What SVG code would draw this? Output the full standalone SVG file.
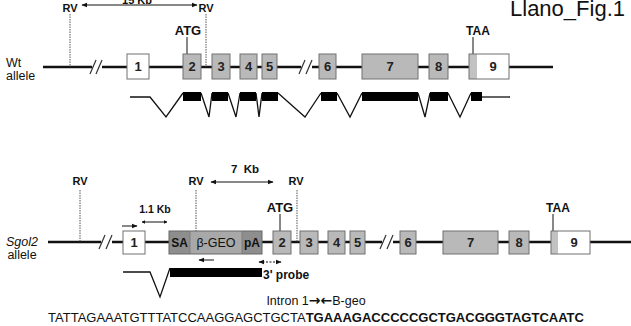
<svg xmlns="http://www.w3.org/2000/svg" width="631" height="326" viewBox="0 0 631 326">
<defs>
<style>
.t{font-family:"Liberation Sans",Arial,sans-serif;fill:#111}
.b{font-weight:bold}
.ex{fill:#b9b9b9;stroke:#707070;stroke-width:1}
.wx{fill:#fff;stroke:#707070;stroke-width:1}
.num{font-family:"Liberation Sans",Arial,sans-serif;font-weight:bold;font-size:13px;fill:#222;text-anchor:middle}
.main{stroke:#111;stroke-width:2.4;fill:none}
.tr{stroke:#111;stroke-width:1.3;fill:none}
.dot{stroke:#555;stroke-width:1;stroke-dasharray:1.5 1;fill:none}
.thin{stroke:#111;stroke-width:1;fill:none}
.brk{stroke:#333;stroke-width:1.2;fill:none}
</style>
<marker id="ah" viewBox="0 0 10 10" refX="9" refY="5" markerWidth="6" markerHeight="6" orient="auto-start-reverse"><path d="M0,1 L10,5 L0,9 z" fill="#111"/></marker>
<marker id="ahb" viewBox="0 0 10 10" refX="9" refY="5" markerWidth="3.6" markerHeight="3.6" orient="auto-start-reverse"><path d="M0,0 L10,5 L0,10 z" fill="#111"/></marker>
</defs>
<rect width="631" height="326" fill="#fff"/>

<text class="t" x="625" y="16" font-size="22" text-anchor="end">Llano_Fig.1</text>

<!-- Wt allele -->
<g id="wt-label"><text class="t" x="6" y="67" font-size="12.5">Wt</text><text class="t" x="6" y="80" font-size="12.5">allele</text></g>
<g id="wt-connectors">
<line class="main" x1="43" y1="67" x2="553" y2="67"/>
<line class="dot" x1="70" y1="14" x2="70" y2="67"/>
<line class="dot" x1="206" y1="14" x2="206" y2="67"/>
<line class="thin" x1="82" y1="5" x2="197" y2="5" marker-start="url(#ah)" marker-end="url(#ah)"/>
<line class="thin" x1="187" y1="37" x2="187" y2="54" stroke-width="1.6"/>
<line class="thin" x1="473" y1="37" x2="473" y2="54" stroke-width="1.6"/>
<rect x="92" y="60" width="10" height="14" fill="#fff"/>
<line class="brk" x1="90" y1="74" x2="96" y2="60"/><line class="brk" x1="96" y1="74" x2="102" y2="60"/>
<rect x="301" y="60" width="11" height="14" fill="#fff"/>
<line class="brk" x1="299" y1="74" x2="305" y2="60"/><line class="brk" x1="306" y1="74" x2="312" y2="60"/>
</g>
<text class="t b" x="70" y="12" font-size="11" text-anchor="middle">RV</text>
<text class="t b" x="206" y="12" font-size="11" text-anchor="middle">RV</text>
<text class="t b" x="137" y="3.5" font-size="11" text-anchor="middle">15 Kb</text>
<text class="t b" x="188" y="35" font-size="13" text-anchor="middle">ATG</text>
<text class="t b" x="478" y="35" font-size="12" text-anchor="middle">TAA</text>

<g id="wt-e1"><rect class="wx" x="127" y="54" width="22" height="25"/><text class="num" x="138" y="71">1</text></g>
<g id="wt-e2"><rect class="ex" x="183" y="54" width="18" height="25"/><text class="num" x="192" y="71">2</text></g>
<g id="wt-e3"><rect class="ex" x="212" y="54" width="18" height="25"/><text class="num" x="221" y="71">3</text></g>
<g id="wt-e4"><rect class="ex" x="240" y="54" width="17" height="25"/><text class="num" x="248.5" y="71">4</text></g>
<g id="wt-e5"><rect class="ex" x="262" y="54" width="15" height="25"/><text class="num" x="269.5" y="71">5</text></g>
<g id="wt-e6"><rect class="ex" x="319" y="54" width="17" height="25"/><text class="num" x="327.5" y="71">6</text></g>
<g id="wt-e7"><rect class="ex" x="362" y="54" width="56" height="25"/><text class="num" x="390" y="71">7</text></g>
<g id="wt-e8"><rect class="ex" x="429" y="54" width="19" height="25"/><text class="num" x="438.5" y="71">8</text></g>
<g id="wt-e9"><rect x="469" y="54" width="40" height="25" fill="#fff"/><rect x="469" y="54" width="8" height="25" fill="#c2c2c2"/><rect x="469" y="54" width="40" height="25" fill="none" stroke="#707070"/><text class="num" x="493" y="71">9</text></g>

<g id="wt-transcript">
<polyline class="tr" points="130,97 150,97 166,117 183,93"/>
<polyline class="tr" points="201,93 209,117 212,93"/>
<polyline class="tr" points="228,93 236,117 240,93"/>
<polyline class="tr" points="256,93 259,117 262,93"/>
<polyline class="tr" points="278,93 305,117 321,93"/>
<polyline class="tr" points="337,93 350,117 362,93"/>
<polyline class="tr" points="418,93 425,117 430,93"/>
<polyline class="tr" points="448,93 460,117 471,93"/>
<line class="tr" x1="482" y1="97" x2="510" y2="97"/>
<rect x="183" y="92" width="18" height="9" fill="#000"/>
<rect x="212" y="92" width="16" height="9" fill="#000"/>
<rect x="240" y="92" width="16" height="9" fill="#000"/>
<rect x="262" y="92" width="16" height="9" fill="#000"/>
<rect x="321" y="92" width="16" height="9" fill="#000"/>
<rect x="362" y="92" width="56" height="9" fill="#000"/>
<rect x="430" y="92" width="18" height="9" fill="#000"/>
<rect x="471" y="92" width="11" height="9" fill="#000"/>
</g>

<!-- Sgol2 allele -->
<g id="sg-label"><text class="t" x="22" y="246" font-size="12.5" font-style="italic" text-anchor="middle">Sgol2</text><text class="t" x="22" y="259" font-size="12.5" text-anchor="middle">allele</text></g>
<g id="sg-connectors">
<line class="main" x1="48" y1="242" x2="631" y2="242"/>
<line class="dot" x1="80" y1="190" x2="80" y2="242"/>
<line class="dot" x1="196" y1="190" x2="196" y2="231"/>
<line class="dot" x1="297" y1="190" x2="297" y2="242"/>
<line class="thin" x1="211" y1="182" x2="273" y2="182" marker-start="url(#ah)" marker-end="url(#ah)"/>
<line class="thin" x1="280" y1="214" x2="280" y2="231" stroke-width="1.6"/>
<line class="thin" x1="553" y1="214" x2="553" y2="231" stroke-width="1.6"/>
<line class="thin" x1="122" y1="226" x2="137" y2="226" stroke-width="1.6" marker-end="url(#ah)"/>
<line class="thin" x1="142" y1="222" x2="167" y2="222" stroke-width="3" marker-start="url(#ahb)" marker-end="url(#ahb)"/>
<line class="thin" x1="214" y1="260" x2="199" y2="260" stroke-width="1.6" marker-end="url(#ah)"/>
<line class="thin" x1="259" y1="262" x2="281" y2="262" stroke-dasharray="2 1.5" marker-start="url(#ah)" marker-end="url(#ah)"/>
<rect x="101" y="235" width="11" height="14" fill="#fff"/>
<line class="brk" x1="99" y1="249" x2="105" y2="235"/><line class="brk" x1="106" y1="249" x2="112" y2="235"/>
<rect x="382" y="235" width="11" height="14" fill="#fff"/>
<line class="brk" x1="380" y1="249" x2="386" y2="235"/><line class="brk" x1="387" y1="249" x2="393" y2="235"/>
</g>
<text class="t b" x="80" y="185" font-size="11" text-anchor="middle">RV</text>
<text class="t b" x="196" y="185" font-size="11" text-anchor="middle">RV</text>
<text class="t b" x="296" y="185" font-size="11" text-anchor="middle">RV</text>
<text class="t b" x="245" y="173" font-size="11.5" text-anchor="middle" xml:space="preserve">7  Kb</text>
<text class="t b" x="155" y="213" font-size="10.5" text-anchor="middle">1.1 Kb</text>
<text class="t b" x="280" y="212" font-size="13" text-anchor="middle">ATG</text>
<text class="t b" x="558" y="212" font-size="12" text-anchor="middle">TAA</text>

<g id="sg-e1"><rect class="wx" x="123" y="231" width="22" height="23"/><text class="num" x="134" y="247">1</text></g>
<g id="sg-cassette">
<rect x="169" y="231" width="21" height="23" fill="#8e8e8e"/>
<rect x="190" y="231" width="52" height="23" fill="#a8a8a8"/>
<rect x="242" y="231" width="20" height="23" fill="#8e8e8e"/>
<rect x="169" y="231" width="93" height="23" fill="none" stroke="#666"/>
<line x1="190" y1="231" x2="190" y2="254" stroke="#777" stroke-width="0.8"/>
<line x1="242" y1="231" x2="242" y2="254" stroke="#777" stroke-width="0.8"/>
<text class="t b" x="179.5" y="247" font-size="12" text-anchor="middle" fill="#333">SA</text>
<text class="t" x="216" y="247" font-size="12.5" text-anchor="middle" fill="#555">β-GEO</text>
<text class="t b" x="252" y="247" font-size="12" text-anchor="middle" fill="#333">pA</text>
</g>
<g id="sg-e2"><rect class="ex" x="273" y="231" width="18" height="23"/><text class="num" x="282" y="247">2</text></g>
<g id="sg-e3"><rect class="ex" x="300" y="231" width="18" height="23"/><text class="num" x="309" y="247">3</text></g>
<g id="sg-e4"><rect class="ex" x="328" y="231" width="17" height="23"/><text class="num" x="336.5" y="247">4</text></g>
<g id="sg-e5"><rect class="ex" x="350" y="231" width="15" height="23"/><text class="num" x="357.5" y="247">5</text></g>
<g id="sg-e6"><rect class="ex" x="400" y="231" width="16" height="23"/><text class="num" x="408" y="247">6</text></g>
<g id="sg-e7"><rect class="ex" x="443" y="231" width="55" height="23"/><text class="num" x="470.5" y="247">7</text></g>
<g id="sg-e8"><rect class="ex" x="509" y="231" width="20" height="23"/><text class="num" x="519" y="247">8</text></g>
<g id="sg-e9"><rect x="551" y="231" width="39" height="23" fill="#fff"/><rect x="551" y="231" width="7" height="23" fill="#c2c2c2"/><rect x="551" y="231" width="39" height="23" fill="none" stroke="#707070"/><text class="num" x="574" y="247">9</text></g>

<g id="sg-transcript">
<polyline class="tr" points="123,272 150,272 160,297 170,268"/>
<rect x="170" y="268" width="92" height="9" fill="#000"/>
<text class="t b" x="263" y="279" font-size="12">3' probe</text>
</g>

<g id="sequence">
<text class="t" x="316" y="305" font-size="12.5" text-anchor="middle">Intron 1<tspan font-family="'DejaVu Sans',sans-serif" font-size="14" font-weight="bold">→←</tspan>B-geo</text>
<text class="t" x="316" y="322" font-size="13" text-anchor="middle">TATTAGAAATGTTTATCCAAGGAGCTGCTA<tspan font-weight="bold">TGAAAGACCCCCGCTGACGGGTAGTCAATC</tspan></text>
</g>
</svg>
